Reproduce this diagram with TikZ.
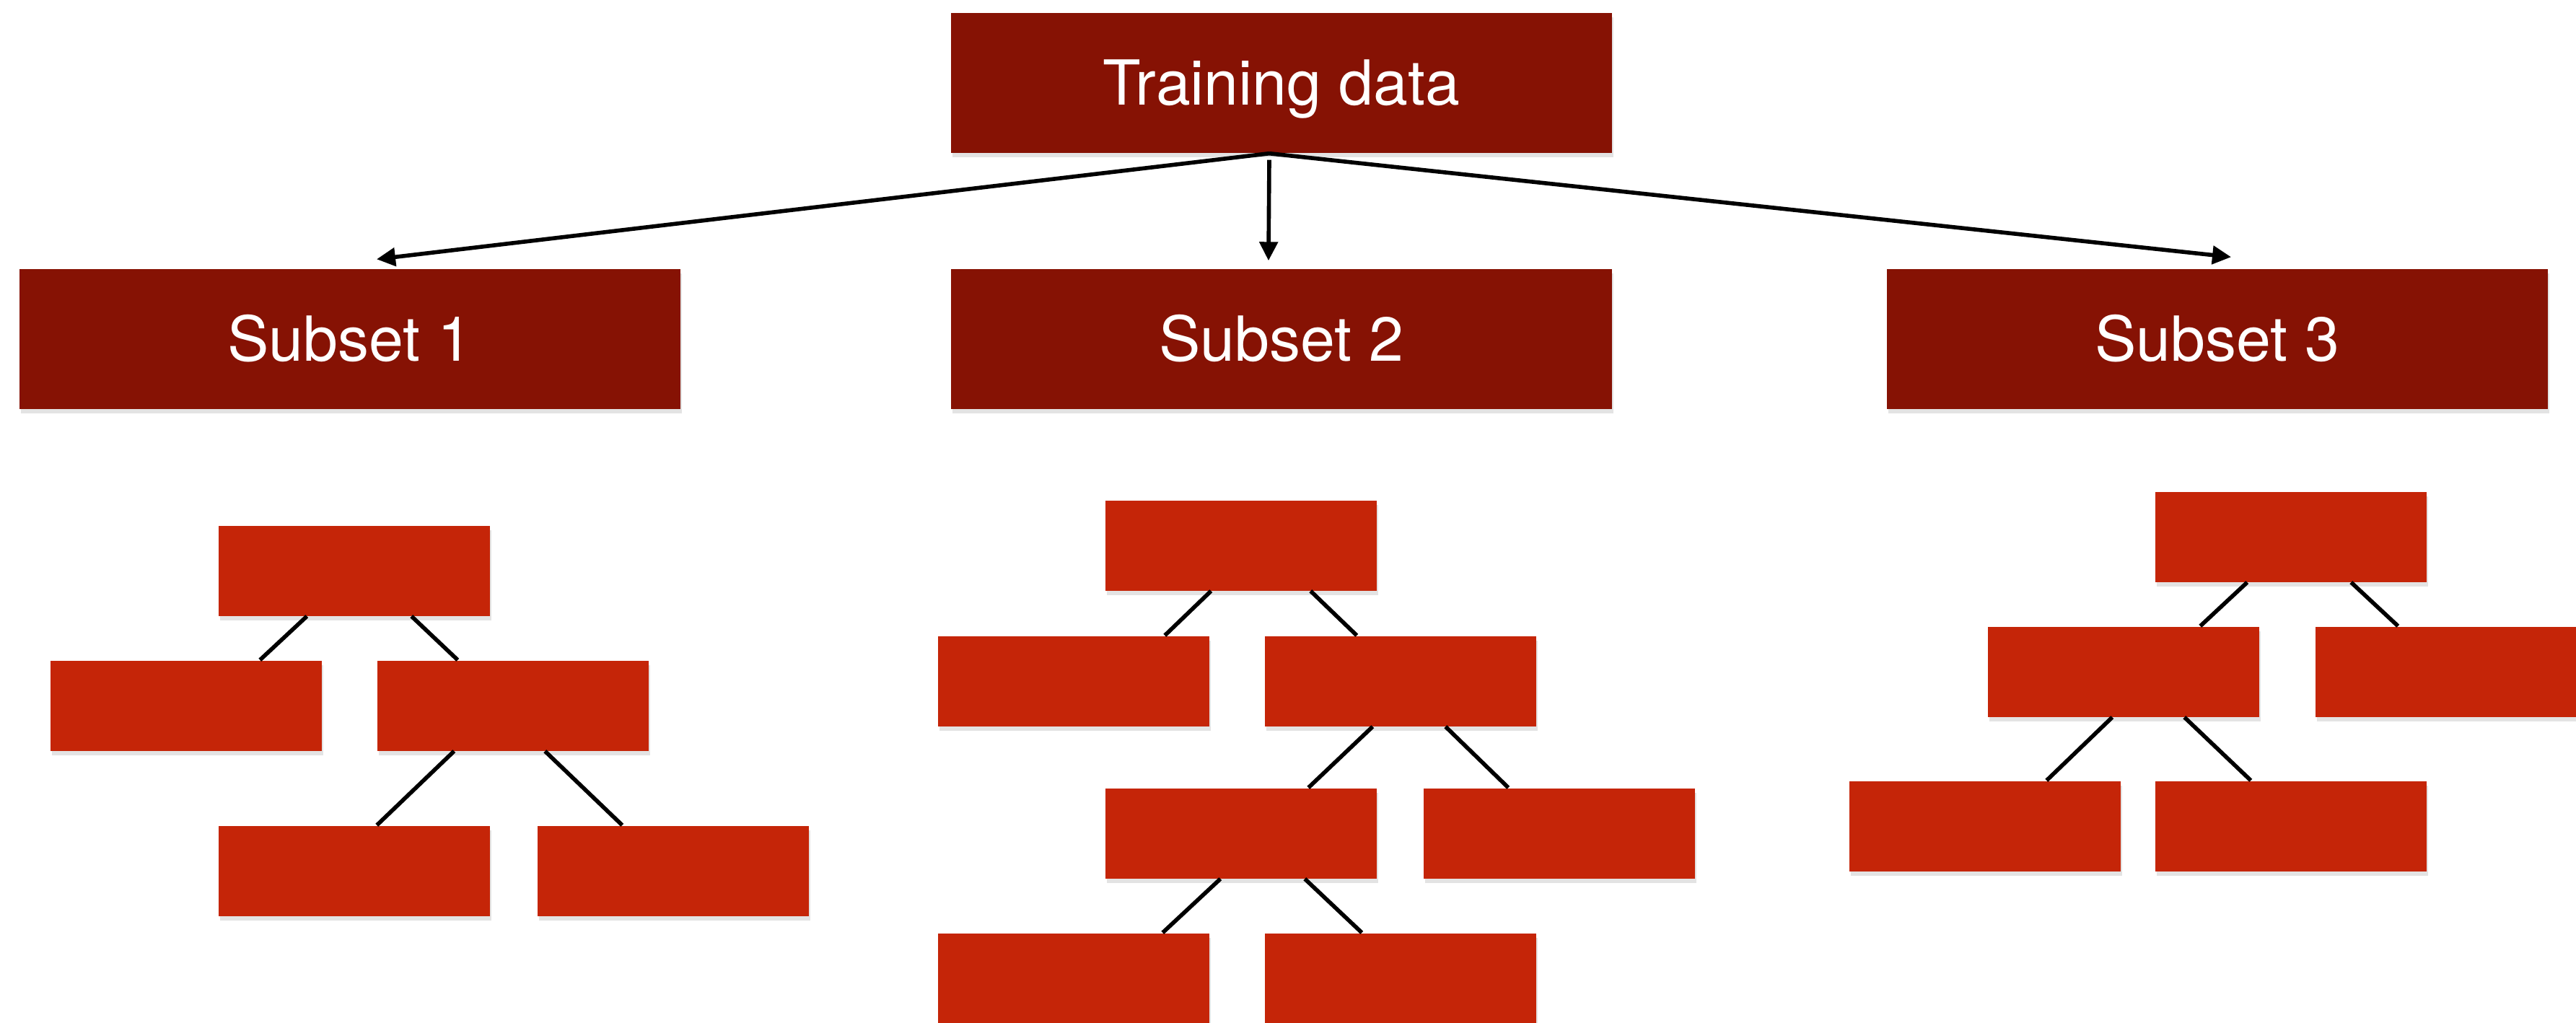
\documentclass[tikz,border=0pt]{standalone}
\usepackage{fontspec}
\setmainfont{TeX Gyre Heros}
\usetikzlibrary{arrows.meta,shadows}
\definecolor{Wine}{RGB}{134,18,4}
\definecolor{Brick}{RGB}{197,37,8}

\begin{document}
\begin{tikzpicture}[
 shade/.style={drop shadow={shadow xshift=.02cm,shadow yshift=-.06cm,opacity=.22}},
 box/.style={shade,fill=Wine,minimum width=9.16cm,minimum height=1.94cm,inner sep=0pt,text=white,font=\fontsize{24.5}{29}\selectfont,text height=17.6pt,text depth=0pt},
 leaf/.style={shade,fill=Brick,minimum width=3.76cm,minimum height=1.25cm,inner sep=0pt},
 arr/.style={-{Triangle[length=.26cm,width=.25cm]},line width=1.6pt},
 ln/.style={line width=1.6pt}]
\useasboundingbox (0,0) rectangle (35.7,-14.18);
% data and subsets
\node[box] (train) at (17.76,-1.15) {Training data};
\node[box] (sub1) at (4.85,-4.70) {Subset 1};
\node[box] (sub2) at (17.76,-4.70) {Subset 2};
\node[box] (sub3) at (30.73,-4.70) {Subset 3};
\draw[arr] ([xshift=-.17cm]train.south) -- ([xshift=.37cm,yshift=.13cm]sub1.north);
\draw[arr] ([xshift=-.17cm,yshift=-.09cm]train.south) -- ([xshift=-.18cm,yshift=.11cm]sub2.north);
\draw[arr] ([xshift=-.17cm]train.south) -- ([xshift=.19cm,yshift=.16cm]sub3.north);
% tree 1
\node[leaf] (a0) at (4.91,-7.91) {};
\node[leaf] (a1) at (2.58,-9.78) {};
\node[leaf] (a2) at (7.11,-9.78) {};
\node[leaf] (a3) at (4.91,-12.07) {};
\node[leaf] (a4) at (9.33,-12.07) {};
\draw[ln] ([xshift=1.23cm]a0.south west) -- ([xshift=2.91cm]a1.north west);
\draw[ln] ([xshift=2.68cm]a0.south west) -- ([xshift=1.12cm]a2.north west);
\draw[ln] ([xshift=1.07cm]a2.south west) -- ([xshift=2.20cm]a3.north west);
\draw[ln] ([xshift=2.33cm]a2.south west) -- ([xshift=1.18cm]a4.north west);
% tree 2
\node[leaf] (b0) at (17.20,-7.56) {};
\node[leaf] (b1) at (14.88,-9.44) {};
\node[leaf] (b2) at (19.41,-9.44) {};
\node[leaf] (b3) at (17.20,-11.55) {};
\node[leaf] (b4) at (21.61,-11.55) {};
\node[leaf] (b5) at (14.88,-13.56) {};
\node[leaf] (b6) at (19.41,-13.56) {};
\draw[ln] ([xshift=1.47cm]b0.south west) -- ([xshift=3.15cm]b1.north west);
\draw[ln] ([xshift=2.85cm]b0.south west) -- ([xshift=1.28cm]b2.north west);
\draw[ln] ([xshift=1.50cm]b2.south west) -- ([xshift=2.82cm]b3.north west);
\draw[ln] ([xshift=2.51cm]b2.south west) -- ([xshift=1.18cm]b4.north west);
\draw[ln] ([xshift=1.60cm]b3.south west) -- ([xshift=3.12cm]b5.north west);
\draw[ln] ([xshift=2.77cm]b3.south west) -- ([xshift=1.35cm]b6.north west);
% tree 3
\node[leaf] (c0) at (31.75,-7.44) {};
\node[leaf] (c1) at (29.43,-9.31) {};
\node[leaf] (c2) at (33.97,-9.31) {};
\node[leaf] (c3) at (27.51,-11.45) {};
\node[leaf] (c4) at (31.75,-11.45) {};
\draw[ln] ([xshift=1.28cm]c0.south west) -- ([xshift=2.95cm]c1.north west);
\draw[ln] ([xshift=2.72cm]c0.south west) -- ([xshift=1.15cm]c2.north west);
\draw[ln] ([xshift=1.73cm]c1.south west) -- ([xshift=2.74cm]c3.north west);
\draw[ln] ([xshift=2.73cm]c1.south west) -- ([xshift=1.33cm]c4.north west);
\end{tikzpicture}
\end{document}
